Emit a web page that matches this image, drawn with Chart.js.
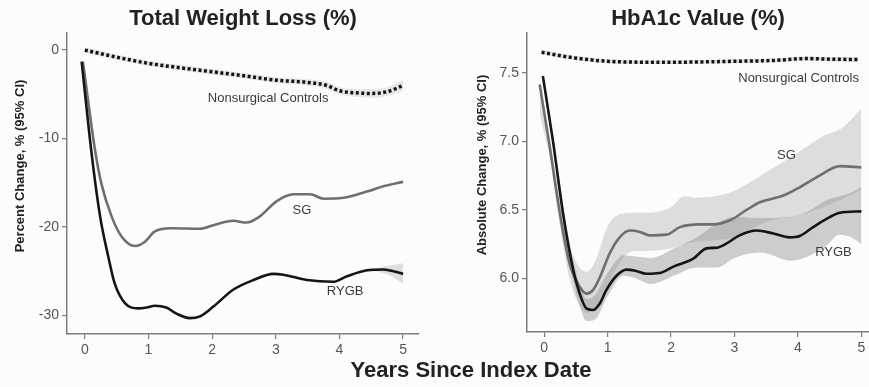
<!DOCTYPE html>
<html>
<head>
<meta charset="utf-8">
<script src="https://cdn.jsdelivr.net/npm/chart.js@4.4.1/dist/chart.umd.min.js"></script>
<style>
  html, body { margin: 0; padding: 0; background: #fcfcfc; }
  body { width: 869px; height: 387px; position: relative; overflow: hidden; font-family: "Liberation Sans", Arial, sans-serif; }
  #wrapLeft { position: absolute; left: 0; top: 0; width: 440px; height: 365px; }
  #wrapRight { position: absolute; left: 440px; top: 0; width: 429px; height: 365px; }
  #xTitle { position: absolute; left: 271px; width: 400px; top: 357px; text-align: center; font-weight: bold; font-size: 22px; color: #222; }
</style>
</head>
<body>
<div id="wrapLeft"><canvas id="weightChart" width="440" height="365"></canvas></div>
<div id="wrapRight"><canvas id="hba1cChart" width="429" height="365"></canvas></div>
<div id="xTitle">Years Since Index Date</div>
<script>
/* ---------- Axis ticks ---------- */
const yearTicks = [0, 1, 2, 3, 4, 5];
const weightTicks = [0, -10, -20, -30];
const hba1cTicks = [6.0, 6.5, 7.0, 7.5];

/* ---------- Total weight loss (%) ---------- */
const wCtrlX = [0, 0.5, 1, 1.5, 2, 2.5, 3, 3.5, 3.8, 4, 4.3, 4.5, 4.75, 5];
const wCtrlY = [0, -0.8, -1.5, -2.0, -2.45, -2.9, -3.4, -3.65, -4.0, -4.6, -4.85, -4.9, -4.7, -4.0];
const wCtrlHi = [0.3, -0.5, -1.2, -1.7, -2.15, -2.6, -3.1, -3.3, -3.6, -4.2, -4.4, -4.4, -4.2, -3.4];
const wCtrlLo = [-0.3, -1.1, -1.8, -2.3, -2.75, -3.2, -3.7, -4.0, -4.4, -5.0, -5.3, -5.4, -5.2, -4.6];

const wSgX = [-0.03, 0.16, 0.26, 0.42, 0.58, 0.79, 0.94, 1.1, 1.36, 1.81, 2.02, 2.33, 2.54, 2.75, 3.01, 3.28, 3.54, 3.75, 4.06, 4.43, 4.69, 5.0];
const wSgY = [-1.3, -11.3, -15.1, -18.8, -21.1, -22.15, -21.7, -20.5, -20.15, -20.2, -19.8, -19.3, -19.5, -18.8, -17.1, -16.3, -16.3, -16.8, -16.7, -16.0, -15.4, -14.9];

const wRygbX = [-0.05, 0.1, 0.24, 0.37, 0.47, 0.63, 0.84, 0.97, 1.1, 1.28, 1.44, 1.65, 1.81, 2.02, 2.33, 2.65, 2.96, 3.12, 3.49, 3.9, 4.11, 4.43, 4.69, 5.0];
const wRygbY = [-1.3, -11.3, -18.8, -23.4, -26.4, -28.6, -29.2, -29.1, -28.9, -29.1, -29.8, -30.3, -30.1, -29.0, -27.1, -26.0, -25.3, -25.4, -26.0, -26.2, -25.6, -24.9, -24.8, -25.3];
const wRygbBandX = [4.3, 4.5, 4.7, 4.85, 5.0];
const wRygbHi = [-25.1, -24.8, -24.5, -24.3, -24.1];
const wRygbLo = [-25.2, -25.0, -25.2, -25.7, -26.4];

/* ---------- HbA1c value (%) ---------- */
const hCtrlX = [-0.04, 0.46, 0.98, 1.5, 2.03, 2.5, 3.08, 3.6, 4.13, 4.5, 4.95];
const hCtrlY = [7.65, 7.61, 7.585, 7.578, 7.577, 7.58, 7.585, 7.59, 7.604, 7.6, 7.597];
const hCtrlHi = [7.665, 7.625, 7.6, 7.592, 7.59, 7.594, 7.6, 7.605, 7.62, 7.616, 7.615];
const hCtrlLo = [7.635, 7.595, 7.57, 7.564, 7.564, 7.566, 7.57, 7.575, 7.588, 7.584, 7.58];

const hSgX = [-0.07, 0.09, 0.25, 0.4, 0.56, 0.67, 0.77, 0.88, 1.03, 1.19, 1.35, 1.51, 1.66, 1.93, 2.14, 2.45, 2.66, 2.93, 3.19, 3.4, 3.77, 4.03, 4.34, 4.66, 5.0];
const hSgY = [7.415, 6.955, 6.47, 6.11, 5.94, 5.89, 5.915, 6.01, 6.18, 6.3, 6.35, 6.34, 6.315, 6.32, 6.375, 6.395, 6.395, 6.425, 6.5, 6.556, 6.605, 6.665, 6.75, 6.82, 6.81];
const hSgBandX = [-0.07, 0.1, 0.25, 0.4, 0.56, 0.67, 0.8, 1.0, 1.2, 1.4, 1.6, 2.0, 2.2, 2.4, 2.7, 3.0, 3.2, 3.55, 4.0, 4.4, 4.7, 5.0];
const hSgHi = [7.42, 7.0, 6.56, 6.24, 6.08, 6.05, 6.12, 6.38, 6.47, 6.48, 6.48, 6.52, 6.6, 6.59, 6.6, 6.64, 6.69, 6.79, 6.92, 7.04, 7.1, 7.24];
const hSgLo = [7.2, 6.85, 6.38, 6.0, 5.8, 5.75, 5.78, 5.95, 6.12, 6.2, 6.2, 6.22, 6.25, 6.27, 6.28, 6.3, 6.35, 6.42, 6.46, 6.52, 6.58, 6.65];

const hRygbX = [-0.02, 0.14, 0.3, 0.46, 0.56, 0.67, 0.77, 0.88, 0.98, 1.14, 1.3, 1.45, 1.61, 1.82, 2.03, 2.35, 2.56, 2.72, 2.87, 3.08, 3.35, 3.6, 3.87, 4.03, 4.24, 4.45, 4.66, 5.0];
const hRygbY = [7.476, 7.0, 6.47, 6.06, 5.89, 5.78, 5.77, 5.82, 5.915, 6.02, 6.065, 6.055, 6.035, 6.04, 6.085, 6.145, 6.22, 6.225, 6.254, 6.315, 6.35, 6.33, 6.3, 6.31, 6.375, 6.435, 6.479, 6.49];
const hRygbBandX = [-0.02, 0.14, 0.3, 0.46, 0.56, 0.67, 0.8, 1.0, 1.25, 1.45, 1.67, 2.09, 2.4, 2.72, 3.0, 3.4, 3.9, 4.2, 4.45, 4.65, 4.85, 5.0];
const hRygbHi = [7.5, 7.05, 6.53, 6.13, 5.96, 5.85, 5.88, 6.04, 6.17, 6.16, 6.15, 6.23, 6.3, 6.4, 6.45, 6.44, 6.45, 6.5, 6.57, 6.6, 6.63, 6.67];
const hRygbLo = [7.45, 6.95, 6.41, 5.98, 5.8, 5.69, 5.7, 5.87, 6.02, 6.0, 5.96, 6.03, 6.08, 6.08, 6.15, 6.19, 6.13, 6.17, 6.24, 6.32, 6.3, 6.25];

/* ---------- helpers ---------- */
const AXIS_GREY = "#7c7c7c";
const FONT = '"Liberation Sans", Arial, sans-serif';
const pts = (xs, ys) => xs.map((x, i) => ({ x, y: ys[i] }));

function line(data, color, width, dash) {
  return {
    data, borderColor: color, borderWidth: width, borderDash: dash || [],
    borderCapStyle: "butt", pointRadius: 0, fill: false,
    cubicInterpolationMode: "monotone"
  };
}
// band = lower edge (no fill) followed by upper edge filled down to it ("-1")
function band(xs, lo, hi, color) {
  const edge = (ys, fill) => ({
    data: pts(xs, ys), borderWidth: 0, borderColor: "rgba(0,0,0,0)", pointRadius: 0,
    cubicInterpolationMode: "monotone", fill, backgroundColor: color
  });
  return [edge(lo, false), edge(hi, "-1")];
}

const seriesLabels = {
  id: "seriesLabels",
  afterDatasetsDraw(chart, args, opts) {
    const { ctx, scales: { x, y } } = chart;
    ctx.save();
    ctx.font = "13px " + FONT;
    ctx.fillStyle = "#3a3a3a";
    ctx.textAlign = "center";
    ctx.textBaseline = "middle";
    for (const it of opts.items) ctx.fillText(it.text, x.getPixelForValue(it.x), y.getPixelForValue(it.y));
    ctx.restore();
  }
};
// vertical y title, placed a bit above the middle like in the source figure
const sideTitle = {
  id: "sideTitle",
  afterDraw(chart, args, opts) {
    const { ctx } = chart;
    ctx.save();
    ctx.translate(opts.left, opts.mid);
    ctx.rotate(-Math.PI / 2);
    ctx.font = "bold 13px " + FONT;
    ctx.fillStyle = "#222";
    ctx.textAlign = "center";
    ctx.textBaseline = "middle";
    ctx.fillText(opts.text, 0, 0);
    ctx.restore();
  }
};

function scales(xMin, xMax, yMin, yMax, yTicks, yWidth, xHeight, fmt) {
  const grid = { drawOnChartArea: false, drawTicks: true, tickLength: 5, color: AXIS_GREY, lineWidth: 1.2 };
  const border = { color: AXIS_GREY, width: 1.5 };
  const ticks = { color: "#555", font: { family: FONT, size: 14 }, padding: 3 };
  return {
    x: {
      type: "linear", min: xMin, max: xMax, grid, border, ticks,
      afterBuildTicks: s => { s.ticks = yearTicks.map(v => ({ value: v })); },
      afterFit: s => { s.height = xHeight; }
    },
    y: {
      type: "linear", min: yMin, max: yMax, grid, border,
      ticks: { ...ticks, callback: fmt },
      afterBuildTicks: s => { s.ticks = yTicks.map(v => ({ value: v })); },
      afterFit: s => { s.width = yWidth; }
    }
  };
}

function baseOptions(title, titlePad, padRight) {
  return {
    responsive: false,
    animation: false,
    layout: { padding: { left: 0, right: padRight, top: 0, bottom: 0 } },
    plugins: {
      legend: { display: false },
      tooltip: { enabled: false },
      title: {
        display: true, text: title, fullSize: false, color: "#222",
        font: { family: FONT, size: 22, weight: "bold" },
        padding: { top: titlePad, bottom: 0 }
      }
    }
  };
}

/* ---------- Left: Total Weight Loss ---------- */
const optW = baseOptions("Total Weight Loss (%)", 6, 21);
optW.scales = scales(-0.28, 5.25, -32.1, 2.0, weightTicks, 67, 31, v => String(v));
optW.plugins.seriesLabels = { items: [
  { text: "Nonsurgical Controls", x: 2.88, y: -5.5 },
  { text: "SG", x: 3.41, y: -18.1 },
  { text: "RYGB", x: 4.09, y: -27.3 }
] };
optW.plugins.sideTitle = { text: "Percent Change, % (95% CI)", left: 20, mid: 166 };

new Chart(document.getElementById("weightChart"), {
  type: "line",
  data: {
    // first dataset is painted last (on top)
    datasets: [
      line(pts(wCtrlX, wCtrlY), "#151515", 3.5, [3, 2.5]),
      line(pts(wRygbX, wRygbY), "#151515", 2.6),
      line(pts(wSgX, wSgY), "#6f6f6f", 2.6),
      ...band(wRygbBandX, wRygbLo, wRygbHi, "rgba(200,200,200,0.6)"),
      ...band(wCtrlX, wCtrlLo, wCtrlHi, "rgba(210,210,210,0.5)")
    ]
  },
  options: optW,
  plugins: [seriesLabels, sideTitle]
});

/* ---------- Right: HbA1c ---------- */
const optH = baseOptions("HbA1c Value (%)", 6, 0);
optH.scales = scales(-0.27, 5.12, 5.61, 7.795, hba1cTicks, 87, 33, v => v.toFixed(1));
optH.plugins.seriesLabels = { items: [
  { text: "Nonsurgical Controls", x: 4.01, y: 7.46 },
  { text: "SG", x: 3.82, y: 6.9 },
  { text: "RYGB", x: 4.56, y: 6.19 }
] };
optH.plugins.sideTitle = { text: "Absolute Change, % (95% CI)", left: 42, mid: 165 };

new Chart(document.getElementById("hba1cChart"), {
  type: "line",
  data: {
    datasets: [
      line(pts(hCtrlX, hCtrlY), "#151515", 3.5, [3, 2.5]),
      line(pts(hRygbX, hRygbY), "#151515", 2.6),
      line(pts(hSgX, hSgY), "#6f6f6f", 2.6),
      ...band(hRygbBandX, hRygbLo, hRygbHi, "rgba(140,140,140,0.42)"),
      ...band(hSgBandX, hSgLo, hSgHi, "rgba(175,175,175,0.4)"),
      ...band(hCtrlX, hCtrlLo, hCtrlHi, "rgba(200,200,200,0.5)")
    ]
  },
  options: optH,
  plugins: [seriesLabels, sideTitle]
});
</script>
</body>
</html>
